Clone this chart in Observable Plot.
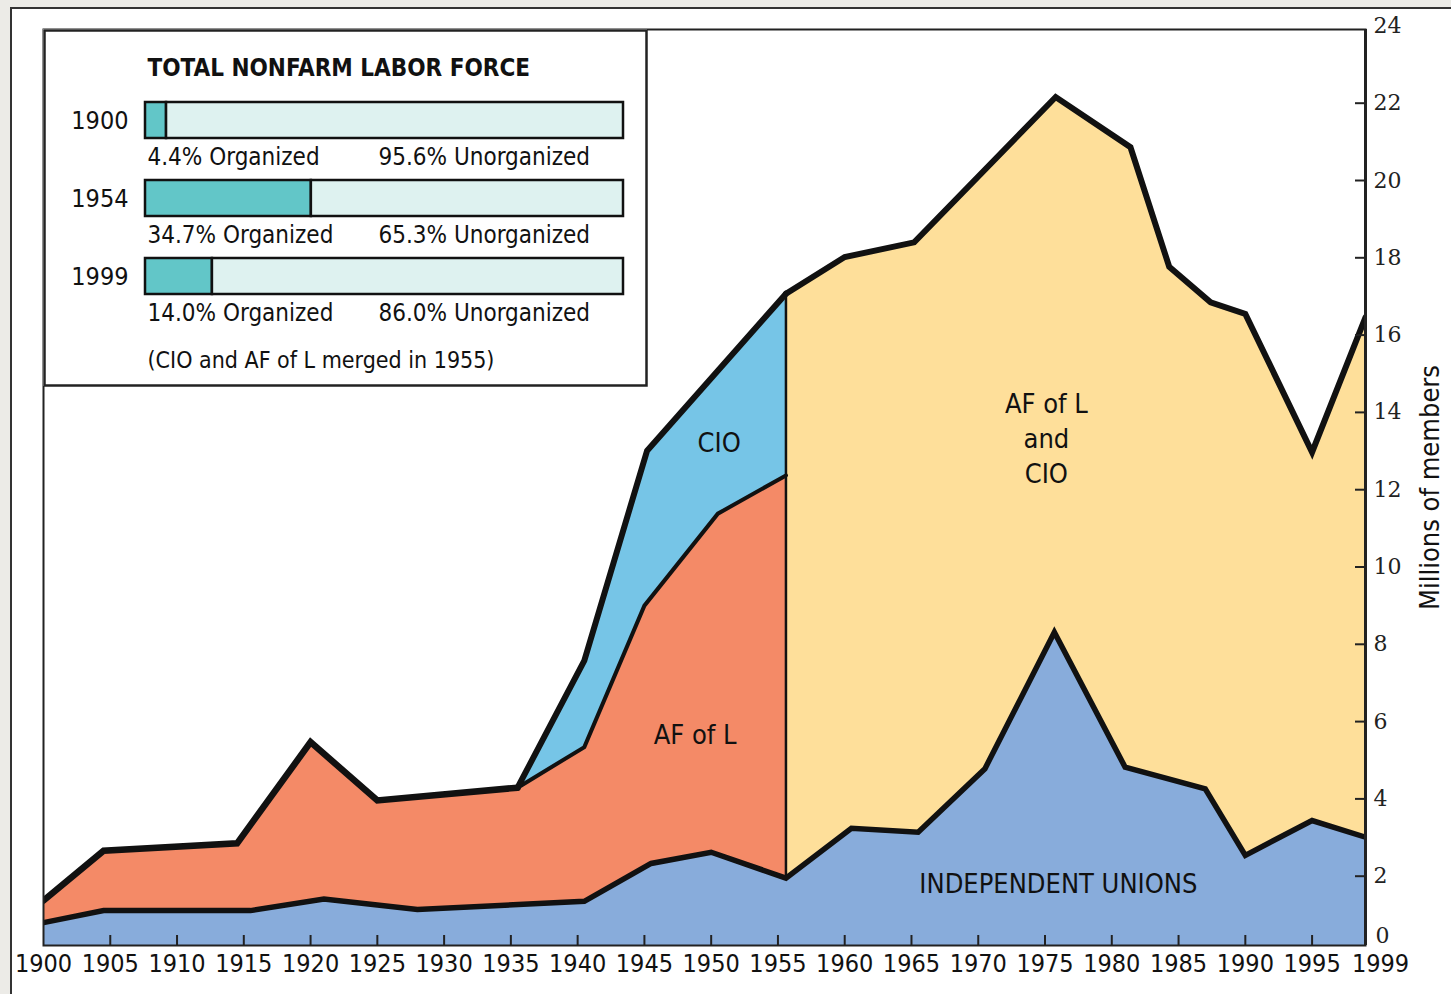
<!DOCTYPE html>
<html><head><meta charset="utf-8">
<script src="https://cdn.jsdelivr.net/npm/d3@7"></script>
<script src="https://cdn.jsdelivr.net/npm/@observablehq/plot@0.6"></script>
<style>
body{margin:0;background:#ecebe7;}
#wrap{position:relative;width:1451px;height:994px;overflow:hidden;}
#sheet{position:absolute;left:10px;top:7px;width:1460px;height:1000px;background:#fff;border-left:2px solid #333;border-top:2px solid #333;}
#main{position:absolute;left:0;top:0;}
#inset{position:absolute;left:43px;top:29px;}
svg{overflow:visible}
</style></head><body>
<div id="wrap"><div id="sheet"></div><div id="main"></div><div id="inset"></div></div>
<script>
// ---------- data (millions of members, boundary values) ----------
const indepYears   = [1900, 1904.5, 1915.5, 1921, 1928, 1940.5, 1945.5, 1950, 1955.6, 1960.5, 1965.5, 1970.5, 1975.7, 1981, 1987, 1990, 1995, 1999];
const indepMembers = [0.80, 1.11, 1.11, 1.41, 1.14, 1.35, 2.33, 2.62, 1.95, 3.24, 3.14, 4.78, 8.31, 4.82, 4.26, 2.54, 3.44, 3.01];

const aflYears = [1900, 1904.5, 1914.5, 1920, 1925, 1935.5, 1940.5, 1945, 1950.5, 1955.6];
const aflTop   = [1.37, 2.66, 2.85, 5.47, 3.96, 4.29, 5.34, 9.0, 11.38, 12.37];

const cioYears = [1935.5, 1940.5, 1945.2, 1955.6];
const cioTop   = [4.29, 7.58, 13.01, 17.07];

const mergedYears = [1955.6, 1960, 1965.2, 1975.8, 1981.4, 1984.3, 1987.4, 1990, 1995, 1999];
const mergedTop   = [17.07, 18.02, 18.4, 22.16, 20.86, 17.77, 16.85, 16.55, 12.97, 16.46];

const mergerYear = 1955.6;
const cioStartYear = 1935.5;

const xTickYears  = [1905,1910,1915,1920,1925,1930,1935,1940,1945,1950,1955,1960,1965,1970,1975,1980,1985,1990,1995];
const xLabelYears = [1900,1905,1910,1915,1920,1925,1930,1935,1940,1945,1950,1955,1960,1965,1970,1975,1980,1985,1990,1995];
const xLastLabel  = [1999];
const yTickValues = [2,4,6,8,10,12,14,16,18,20,22];
const yLabelValues = [2,4,6,8,10,12,14,16,18,20,22,24];

// inset: total nonfarm labor force
const insetYears   = ["1900", "1954", "1999"];
const organizedPct = [4.4, 34.7, 14.0];
const unorganizedPct = [95.6, 65.3, 86.0];
const insetTitle = "TOTAL NONFARM LABOR FORCE";
const insetNote = "(CIO and AF of L merged in 1955)";

// ---------- build ----------
const F = '"Liberation Sans Narrow","DejaVu Sans Condensed","Roboto Condensed","Roboto",sans-serif';
const C = {indep:"#88acdb", afl:"#f48a67", cio:"#76c5e7", merged:"#fedf9a", ink:"#111", teal:"#62c6c8", pale:"#def2f0"};

const zip = (xs, ys) => xs.map((year, i) => ({year, value: ys[i]}));
const indep = zip(indepYears, indepMembers);
const afl = zip(aflYears, aflTop);
const cio = zip(cioYears, cioTop);
const merged = zip(mergedYears, mergedTop);
const indepAtMerger = indep.find(d => d.year === mergerYear).value;
const cioAtMerger = cio.find(d => d.year === mergerYear).value;

const frameW = 1365 - 43, frameH = 945 - 29;
const lineOpts = {x:"year", y:"value", stroke:C.ink, strokeLinejoin:"miter", strokeMiterlimit:6, clip:true};

const chart = Plot.plot({
  width: 1451, height: 994,
  marginLeft: 43, marginRight: 86, marginTop: 29, marginBottom: 49,
  style: {background:"transparent", fontFamily:F, color:"#111", overflow:"visible"},
  x: {domain:[1900, 1999]},
  y: {domain:[0, 24], range:[953, 25.4]},
  marks: [
    Plot.areaY(cio, {x:"year", y:"value", fill:C.cio, clip:true}),
    Plot.areaY(afl, {x:"year", y:"value", fill:C.afl, clip:true}),
    Plot.areaY(merged, {x:"year", y:"value", fill:C.merged, clip:true}),
    Plot.areaY(indep, {x:"year", y:"value", fill:C.indep, clip:true}),
    Plot.ruleX([mergerYear], {y1:indepAtMerger, y2:cioAtMerger, stroke:C.ink, strokeWidth:2.5}),
    Plot.line(indep, {...lineOpts, strokeWidth:5.5}),
    Plot.line(afl, {...lineOpts, filter: d => d.year <= cioStartYear, strokeWidth:6.5}),
    Plot.line(afl, {...lineOpts, filter: d => d.year >= cioStartYear, strokeWidth:4}),
    Plot.line(cio, {...lineOpts, strokeWidth:6}),
    Plot.line(merged, {...lineOpts, strokeWidth:6}),
    Plot.frame({stroke:"#222", strokeWidth:2}),
    Plot.ruleX([1999], {stroke:"#222", strokeWidth:3}),
    Plot.ruleX(xTickYears, {insetTop: frameH - 10, stroke:"#222", strokeWidth:2}),
    Plot.ruleY(yTickValues, {insetLeft: frameW - 10, stroke:"#222", strokeWidth:2}),
    Plot.axisX({ticks:xLabelYears, tickSize:0, tickPadding:9, tickFormat:d => String(d), fontSize:25, fill:"#111", label:null}),
    Plot.text(xLastLabel, {x:d => d, frameAnchor:"bottom", lineAnchor:"top", dy:9, dx:15, text:d => String(d), fontSize:25, fill:"#111"}),
    Plot.axisY({anchor:"right", ticks:yLabelValues, tickSize:0, tickPadding:8, tickFormat:d => String(d), fontSize:22, fontFamily:'"DejaVu Serif",serif', fill:"#222", label:null}),
    Plot.text([0], {y:d => d, frameAnchor:"right", textAnchor:"start", dx:10, dy:-18, text:d => String(d), fontSize:22, fontFamily:'"DejaVu Serif",serif', fill:"#222"}),
    Plot.text(["Millions of members"], {frameAnchor:"right", textAnchor:"middle", lineAnchor:"middle", dx:65, rotate:-90, fontSize:27, fill:"#111"}),
    Plot.text(["CIO"], {x:1950.6, y:13.2, fontSize:27, fill:"#111"}),
    Plot.text(["AF of L"], {x:1948.8, y:5.64, fontSize:27, fill:"#111"}),
    Plot.text(["AF of L\nand\nCIO"], {x:1975.1, y:13.38, fontSize:27, lineHeight:1.3, fill:"#111"}),
    Plot.text(["INDEPENDENT UNIONS"], {x:1976.0, y:1.79, fontSize:27, fill:"#111"})
  ]
});
document.getElementById("main").append(chart);

const insetRows = insetYears.map((year, i) => ({year, org: organizedPct[i], unorg: unorganizedPct[i]}));
const inset = Plot.plot({
  width: 604, height: 357, margin: 0,
  style: {background:"#fff", fontFamily:F, color:"#111", overflow:"visible"},
  x: {domain:[0, 100], range:[102, 580], axis:null},
  y: {domain: insetYears, range:[72, 266], paddingInner:0.544, paddingOuter:0, axis:null},
  marks: [
    Plot.frame({stroke:"#222", strokeWidth:2.5, inset:1}),
    Plot.barX(insetRows, {x1:0, x2:"org", y:"year", fill:C.teal, stroke:C.ink, strokeWidth:2.5}),
    Plot.barX(insetRows, {x1:"org", x2:100, y:"year", fill:C.pale, stroke:C.ink, strokeWidth:2.5}),
    Plot.text(insetRows, {x:0, y:"year", text:"year", textAnchor:"end", dx:-17, fontSize:25, fill:"#111"}),
    Plot.text(insetRows, {x:0, y:"year", text:d => `${d.org.toFixed(1)}% Organized`, textAnchor:"start", dx:2, dy:37, fontSize:24, fill:"#111"}),
    Plot.text(insetRows, {x:0, y:"year", text:d => `${d.unorg.toFixed(1)}% Unorganized`, textAnchor:"start", dx:233, dy:37, fontSize:24, fill:"#111"}),
    Plot.text([insetTitle], {frameAnchor:"top-left", textAnchor:"start", lineAnchor:"middle", dx:104, dy:39, fontSize:24, fontWeight:"bold", fill:"#111"}),
    Plot.text([insetNote], {frameAnchor:"top-left", textAnchor:"start", lineAnchor:"middle", dx:104, dy:331, fontSize:23, fill:"#111"})
  ]
});
document.getElementById("inset").append(inset);
</script>
</body></html>
